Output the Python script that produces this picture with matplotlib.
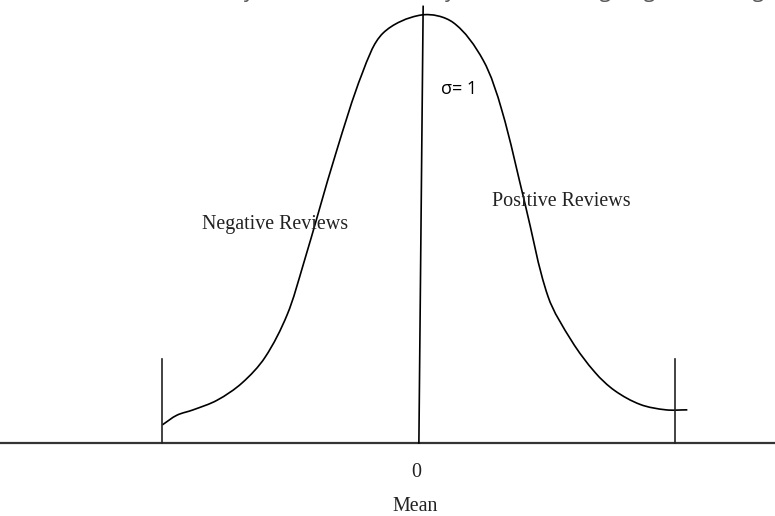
import numpy as np
import matplotlib
matplotlib.use("Agg")
import matplotlib.pyplot as plt
from matplotlib.path import Path
from matplotlib.patches import PathPatch

# bell curve, x in sigma units, y as density
curve_x = [-2.99, -2.82, -2.63, -2.35, -2.06, -1.79, -1.53, -1.345, -0.96, -0.65,
           -0.41, 0.04, 0.41, 0.76, 0.98, 1.25, 1.52, 1.80, 2.07, 2.30, 2.60,
           2.90, 3.15]
curve_y = [0.017, 0.026, 0.031, 0.040, 0.056, 0.080, 0.120, 0.166, 0.271, 0.346,
           0.383, 0.400, 0.393, 0.358, 0.311, 0.224, 0.137, 0.095, 0.066, 0.049,
           0.036, 0.031, 0.031]

mean_line_x = [0.01, 0.06]
mean_line_y = [0.0, 0.408]
bounds = [-3.0, 3.0]
bound_height = 0.0785

side_labels = ["Negative Reviews", "Positive Reviews"]
side_x = [-1.67, 1.67]
side_y = [0.204, 0.226]
sigma_label = "σ= 1"
tick_label = "0"
axis_label = "Mean"
top_text = "Rarely, Seldom, and Mostly Positive, Strong Negative ratings"


def smooth_path(xs, ys, sx=85.5, sy=1070.0):
    # smooth bezier through the traced points, tangents scaled by chord length
    p = np.column_stack([xs, ys])
    d = np.hypot(np.diff(p[:, 0]) * sx, np.diff(p[:, 1]) * sy)
    n = len(p)
    t = np.zeros_like(p)
    t[0] = (p[1] - p[0]) / d[0]
    t[-1] = (p[-1] - p[-2]) / d[-1]
    for i in range(1, n - 1):
        t[i] = (p[i + 1] - p[i - 1]) / (d[i - 1] + d[i])
    verts = [p[0]]
    codes = [Path.MOVETO]
    for i in range(n - 1):
        verts += [p[i] + t[i] * d[i] / 3, p[i + 1] - t[i + 1] * d[i] / 3, p[i + 1]]
        codes += [Path.CURVE4] * 3
    return Path(verts, codes)


fig = plt.figure(figsize=(7.75, 5.16), dpi=100)
ax = fig.add_axes([0, 0, 1, 1])
ax.set_xlim(-4.889, 4.175)
ax.set_ylim(-0.0682, 0.414)
ax.axis("off")

ax.axhline(0, color="#333333", lw=1.6)
ax.add_patch(PathPatch(smooth_path(curve_x, curve_y), fill=False,
                       edgecolor="black", lw=1.2))
ax.plot(mean_line_x, mean_line_y, color="black", lw=1.2)
for b in bounds:
    ax.plot([b, b], [0, bound_height], color="#222222", lw=1.2)

serif = ["Liberation Serif", "DejaVu Serif"]
for lab, x, y in zip(side_labels, side_x, side_y):
    ax.text(x, y, lab, family=serif, fontsize=14.4, ha="center", va="center",
            color="#222222")
ax.text(0.48, 0.331, sigma_label, family=["Open Sans", "DejaVu Sans"], fontsize=13,
        ha="center", va="center", color="black")
ax.text(-0.02, -0.0275, tick_label, family=serif, fontsize=14.4, ha="center",
        va="center", color="#222222")
ax.text(-0.03, -0.059, axis_label, family=serif, fontsize=14.4, ha="center",
        va="center", color="#222222")
fig.text(0.25, 1.005, top_text, family=["Open Sans", "DejaVu Sans"], fontsize=15,
         ha="left", va="baseline", color="#595959")

fig.savefig("out.png", dpi=100)
